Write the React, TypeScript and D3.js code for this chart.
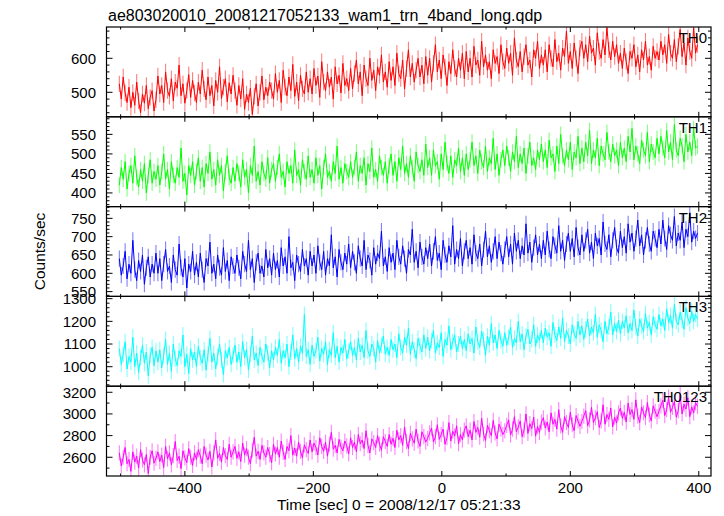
import React from "react";
import * as d3 from "d3";

// ---- data ----
const TITLE = "ae803020010_20081217052133_wam1_trn_4band_long.qdp";
const X_LABEL = "Time [sec] 0 = 2008/12/17 05:21:33";
const Y_LABEL = "Counts/sec";
const T_START = -502; // first bin time (s)
const T_STEP = 3; // bin spacing (s)
const X_DOMAIN = [-522, 419];
const X_MAJOR_TICKS = [-400, -200, 0, 200, 400];
const X_MINOR_TICKS = [-500, -300, -100, 100, 300];

const TH0 = [
  525, 480, 545, 498, 470, 515, 455, 500, 462, 530, 475, 440, 495, 468, 520, 452, 485, 505, 445, 478,
  548, 495, 520, 470, 560, 505, 488, 540, 475, 530, 512, 580, 490, 525, 468, 505, 552, 485, 535, 498,
  470, 530, 495, 565, 510, 478, 545, 490, 520, 460, 535, 500, 575, 482, 515, 540, 472, 528, 495, 550,
  505, 462, 520, 480, 540, 450, 495, 470, 512, 435, 488, 525, 460, 500, 548, 478, 515, 490, 530, 505,
  480, 555, 500, 535, 470, 565, 515, 490, 545, 505, 582, 488, 530, 475, 550, 510, 495, 560, 500, 540,
  495, 570, 520, 548, 485, 590, 530, 505, 560, 515, 545, 480, 575, 525, 550, 498, 585, 520, 540, 505,
  570, 510, 555, 595, 525, 560, 490, 580, 540, 520, 600, 535, 565, 505, 575, 550, 610, 530, 560, 515,
  590, 535, 575, 520, 615, 555, 540, 595, 510, 570, 625, 545, 585, 530, 565, 600, 545, 580, 525, 605,
  550, 600, 530, 585, 640, 560, 595, 540, 610, 575, 520, 590, 555, 625, 570, 545, 600, 565, 615, 540,
  620, 560, 600, 545, 635, 580, 595, 550, 650, 575, 610, 565, 590, 540, 625, 585, 605, 555, 640, 590,
  570, 630, 585, 615, 550, 660, 595, 575, 620, 560, 605, 640, 580, 595, 545, 625, 600, 650, 570, 610,
  580, 625, 560, 640, 600, 575, 655, 590, 615, 565, 630, 605, 680, 585, 620, 570, 645, 600, 555, 630,
  650, 600, 640, 590, 665, 615, 630, 580, 675, 620, 600, 655, 610, 690, 625, 595, 650, 605, 640, 585,
  615, 570, 630, 590, 555, 620, 600, 640, 575, 610, 560, 625, 595, 650, 580, 605, 565, 635, 600, 620,
  595, 650, 610, 640, 585, 670, 615, 600, 655, 590, 635, 685, 605, 645, 580, 660, 620, 600, 690, 615,
  640,
];

const TH1 = [
  420, 465, 435, 480, 410, 450, 470, 425, 495, 440, 415, 460, 430, 475, 400, 445, 485, 425, 455, 435,
  470, 420, 455, 500, 435, 460, 410, 480, 445, 425, 465, 440, 515, 430, 450, 395, 470, 445, 480, 420,
  455, 490, 430, 465, 415, 475, 450, 505, 435, 460, 420, 485, 445, 470, 405, 455, 495, 440, 425, 465,
  430, 475, 450, 415, 485, 440, 460, 400, 470, 445, 520, 430, 455, 420, 480, 450, 435, 490, 425, 460,
  475, 430, 465, 500, 440, 455, 415, 480, 450, 470, 425, 510, 445, 460, 420, 485, 455, 435, 495, 440,
  460, 425, 490, 445, 470, 410, 465, 500, 440, 455, 430, 480, 450, 520, 435, 465, 425, 475, 455, 440,
  480, 440, 465, 505, 430, 470, 450, 490, 420, 475, 455, 515, 440, 460, 430, 495, 465, 445, 480, 425,
  470, 500, 445, 480, 430, 490, 460, 520, 450, 475, 440, 495, 465, 430, 505, 470, 455, 485, 445, 525,
  465, 490, 445, 510, 470, 480, 435, 500, 460, 530, 475, 450, 495, 440, 485, 470, 515, 455, 490, 445,
  500, 460, 485, 530, 470, 495, 450, 510, 480, 465, 520, 455, 490, 475, 540, 460, 500, 445, 485, 510,
  470, 520, 490, 455, 505, 480, 545, 465, 500, 475, 515, 450, 495, 530, 470, 490, 460, 510, 485, 525,
  480, 510, 465, 535, 490, 500, 455, 520, 475, 550, 495, 470, 510, 485, 530, 460, 505, 490, 545, 475,
  515, 480, 530, 495, 560, 475, 510, 490, 540, 470, 520, 500, 485, 555, 505, 480, 525, 495, 510, 470,
  530, 490, 515, 480, 545, 505, 565, 485, 520, 500, 475, 535, 510, 495, 555, 480, 525, 505, 490, 540,
  500, 545, 515, 490, 560, 505, 530, 485, 575, 510, 495, 540, 520, 480, 550, 505, 530, 495, 565, 515,
  520,
];

const TH2 = [
  640, 595, 620, 660, 585, 625, 600, 690, 610, 580, 635, 605, 650, 570, 615, 645, 590, 625, 600, 655,
  600, 640, 580, 625, 665, 605, 620, 575, 650, 610, 595, 680, 615, 590, 640, 560, 625, 605, 660, 595,
  630, 590, 655, 610, 575, 640, 620, 685, 600, 625, 585, 650, 615, 595, 670, 605, 635, 580, 645, 620,
  600, 650, 615, 585, 660, 625, 605, 690, 610, 640, 575, 630, 655, 600, 620, 590, 665, 615, 640, 595,
  655, 610, 635, 590, 670, 620, 645, 600, 700, 615, 630, 580, 650, 625, 605, 665, 620, 640, 595, 660,
  620, 650, 600, 675, 630, 610, 660, 595, 640, 620, 705, 615, 645, 590, 665, 630, 610, 655, 625, 680,
  615, 660, 630, 600, 675, 640, 620, 690, 610, 650, 635, 595, 670, 625, 655, 640, 715, 620, 645, 605,
  670, 630, 655, 610, 690, 645, 625, 675, 640, 600, 665, 650, 720, 630, 660, 615, 685, 645, 625, 670,
  640, 680, 620, 660, 700, 635, 655, 610, 690, 650, 630, 675, 645, 730, 625, 665, 640, 695, 620, 660,
  690, 640, 670, 625, 705, 655, 640, 680, 620, 665, 715, 645, 675, 630, 660, 700, 640, 685, 655, 625,
  665, 700, 645, 680, 625, 710, 660, 690, 640, 675, 650, 735, 655, 685, 630, 670, 705, 650, 680, 640,
  690, 650, 715, 665, 640, 700, 675, 655, 730, 660, 690, 635, 680, 710, 660, 695, 645, 725, 670, 650,
  705, 660, 690, 720, 655, 685, 640, 710, 675, 695, 650, 740, 680, 665, 705, 645, 690, 725, 670, 655,
  715, 670, 700, 655, 735, 685, 710, 660, 695, 745, 675, 705, 650, 690, 725, 680, 660, 715, 695, 670,
  720, 680, 745, 695, 665, 730, 705, 690, 755, 675, 710, 690, 740, 670, 720, 700, 765, 685, 715, 695,
  710,
];

const TH3 = [
  1080, 1010, 1055, 1110, 990, 1045, 1020, 1130, 1000, 1060, 975, 1040, 1095, 1015, 1065, 960, 1050, 1085, 1005, 1070,
  1020, 1075, 995, 1050, 1120, 1010, 1060, 980, 1100, 1035, 1005, 1070, 1045, 1140, 1000, 1055, 970, 1080, 1030, 1065,
  1000, 1090, 1040, 1015, 1075, 985, 1055, 1125, 1020, 1060, 990, 1045, 1100, 1030, 965, 1070, 1040, 1085, 1010, 1050,
  1095, 1020, 1065, 1000, 1110, 1040, 1075, 985, 1055, 1135, 1030, 1060, 1005, 1085, 1045, 1020, 1100, 1060, 995, 1070,
  1030, 1085, 1050, 1120, 1015, 1070, 1040, 1100, 1000, 1065, 1140, 1035, 1080, 1020, 1090, 1060, 1230, 1045, 1075, 1010,
  1095, 1045, 1070, 1130, 1025, 1080, 1055, 1110, 1010, 1075, 1050, 1150, 1040, 1090, 1020, 1085, 1060, 1120, 1035, 1070,
  1110, 1050, 1085, 1030, 1125, 1065, 1095, 1040, 1160, 1070, 1045, 1100, 1080, 1020, 1115, 1060, 1095, 1135, 1055, 1085,
  1050, 1120, 1075, 1100, 1040, 1145, 1085, 1060, 1130, 1095, 1170, 1055, 1110, 1075, 1035, 1125, 1090, 1065, 1140, 1080,
  1130, 1070, 1115, 1160, 1060, 1105, 1085, 1150, 1045, 1120, 1095, 1180, 1075, 1110, 1140, 1065, 1100, 1135, 1080, 1120,
  1070, 1145, 1100, 1125, 1060, 1175, 1110, 1085, 1155, 1120, 1050, 1135, 1095, 1190, 1105, 1140, 1080, 1160, 1115, 1090,
  1150, 1095, 1130, 1175, 1085, 1125, 1105, 1200, 1110, 1145, 1075, 1135, 1165, 1100, 1120, 1185, 1090, 1140, 1115, 1160,
  1105, 1170, 1130, 1150, 1090, 1195, 1140, 1115, 1175, 1125, 1215, 1110, 1160, 1135, 1100, 1185, 1145, 1125, 1200, 1140,
  1180, 1120, 1165, 1210, 1135, 1175, 1150, 1230, 1130, 1185, 1160, 1110, 1200, 1145, 1175, 1240, 1140, 1190, 1155, 1205,
  1145, 1200, 1170, 1225, 1150, 1190, 1160, 1250, 1175, 1135, 1210, 1180, 1155, 1235, 1170, 1195, 1140, 1220, 1185, 1165,
  1230, 1180, 1210, 1160, 1255, 1195, 1225, 1170, 1275, 1200, 1185, 1240, 1205, 1165, 1260, 1215, 1190, 1245, 1200, 1230,
  1210,
];

const TH0123 = [
  2640, 2520, 2600, 2690, 2540, 2580, 2470, 2650, 2555, 2610, 2500, 2670, 2575, 2530, 2625, 2450, 2600, 2660, 2545, 2590,
  2650, 2560, 2620, 2505, 2700, 2585, 2640, 2530, 2615, 2745, 2570, 2610, 2495, 2660, 2595, 2550, 2680, 2600, 2525, 2640,
  2580, 2670, 2610, 2540, 2700, 2620, 2575, 2655, 2510, 2640, 2760, 2590, 2635, 2555, 2690, 2615, 2580, 2720, 2600, 2650,
  2700, 2590, 2650, 2560, 2730, 2620, 2680, 2600, 2540, 2665, 2785, 2610, 2655, 2580, 2710, 2640, 2600, 2690, 2625, 2550,
  2720, 2630, 2690, 2600, 2750, 2645, 2580, 2700, 2660, 2800, 2620, 2685, 2610, 2740, 2655, 2595, 2715, 2670, 2635, 2760,
  2650, 2730, 2690, 2620, 2780, 2700, 2655, 2740, 2610, 2720, 2830, 2675, 2710, 2640, 2765, 2695, 2660, 2750, 2705, 2630,
  2780, 2690, 2740, 2650, 2810, 2725, 2760, 2680, 2845, 2710, 2640, 2770, 2735, 2690, 2800, 2720, 2665, 2790, 2745, 2700,
  2810, 2720, 2775, 2690, 2850, 2760, 2800, 2710, 2880, 2745, 2680, 2820, 2770, 2730, 2860, 2750, 2700, 2835, 2790, 2740,
  2775, 2825, 2870, 2740, 2790, 2900, 2765, 2810, 2860, 2720, 2780, 2920, 2750, 2840, 2795, 2890, 2725, 2810, 2760, 2850,
  2890, 2790, 2850, 2760, 2930, 2830, 2875, 2785, 2960, 2815, 2755, 2895, 2845, 2800, 2940, 2825, 2770, 2905, 2860, 2810,
  2845, 2895, 2945, 2805, 2860, 2975, 2835, 2880, 2935, 2790, 2850, 3000, 2820, 2910, 2865, 2970, 2795, 2885, 2830, 2925,
  2965, 2870, 2925, 2835, 3010, 2905, 2950, 2860, 3040, 2890, 2830, 2975, 2920, 2875, 3015, 2900, 2845, 2985, 2935, 2885,
  2930, 2980, 3030, 2890, 2945, 3060, 2920, 2965, 3020, 2875, 2935, 3085, 2905, 2995, 2950, 3055, 2880, 2970, 2915, 3010,
  3055, 2960, 3015, 2925, 3100, 2995, 3040, 2950, 3130, 2980, 2920, 3065, 3010, 2965, 3105, 2990, 2935, 3075, 3025, 2975,
  3025, 3075, 3125, 2985, 3040, 3155, 3015, 3060, 3115, 2970, 3030, 3180, 3000, 3090, 3045, 3150, 2975, 3065, 3010, 3105,
  3070,
];

// approximate 1-sigma error bar half-lengths per band (counts/sec)
const ERRORS = [24, 20, 22, 35, 70];

const PANEL_NAMES = ["TH0", "TH1", "TH2", "TH3", "TH0123"];
const PANEL_SERIES = [TH0, TH1, TH2, TH3, TH0123];
const PANEL_COLORS = ["#ff0000", "#00ff00", "#0000ff", "#00ffff", "#ff00ff"];
const Y_DOMAINS = [
  [428, 692],
  [365, 595],
  [537, 782],
  [914, 1310],
  [2427, 3256],
];
const Y_MAJOR_STEP = [100, 50, 50, 100, 200];
const Y_MINOR_STEP = [20, 10, 10, 20, 100];

// ---- layout ----
const W = 724;
const H = 516;
const LEFT = 106.5;
const RIGHT = 711;
const TOP = 27;
const BOTTOM = 476;
const NP = PANEL_NAMES.length;
const PH = (BOTTOM - TOP) / NP;
const FONT = "'Liberation Sans', Arial, Helvetica, sans-serif";

function ticksIn(domain: number[], step: number) {
  const lo = Math.ceil(domain[0] / step) * step;
  const out: number[] = [];
  for (let v = lo; v <= domain[1] + 1e-9; v += step) out.push(v);
  return out;
}

export default function App() {
  const x = d3.scaleLinear().domain(X_DOMAIN).range([LEFT, RIGHT]);

  return (
    <svg
      width={W}
      height={H}
      viewBox={`0 0 ${W} ${H}`}
      style={{ position: "absolute", left: 0, top: 0, background: "#fff" }}
    >
      <rect x={0} y={0} width={W} height={H} fill="#fff" />
      <defs>
        {PANEL_NAMES.map((n, i) => (
          <clipPath id={`clip${i}`} key={n}>
            <rect x={LEFT} y={TOP + i * PH} width={RIGHT - LEFT} height={PH} />
          </clipPath>
        ))}
      </defs>
      <text x={108} y={21} fontFamily={FONT} fontSize={16} fill="#000">
        {TITLE}
      </text>
      {PANEL_NAMES.map((name, i) => {
        const top = TOP + i * PH;
        const bot = top + PH;
        const y = d3.scaleLinear().domain(Y_DOMAINS[i]).range([bot, top]);
        const vals = PANEL_SERIES[i];
        const tx = (k: number) => x(T_START + k * T_STEP);
        const line = d3
          .line<number>()
          .x((_, k) => tx(k))
          .y((v) => y(v));
        const d = line(vals) || "";
        const err = ERRORS[i];
        const bars = vals
          .map((v, k) => `M${tx(k).toFixed(2)},${y(v - err).toFixed(2)}V${y(v + err).toFixed(2)}`)
          .join("");
        const majors = ticksIn(Y_DOMAINS[i], Y_MAJOR_STEP[i]);
        const minors = ticksIn(Y_DOMAINS[i], Y_MINOR_STEP[i]).filter(
          (v) => !majors.includes(v)
        );
        const col = PANEL_COLORS[i];
        return (
          <g key={name}>
            <g clipPath={`url(#clip${i})`}>
              <path d={bars} fill="none" stroke={col} strokeOpacity={0.5} strokeWidth={1.1} />
              <path d={d} fill="none" stroke={col} strokeWidth={1} />
            </g>
            {majors.map((v) => (
              <g key={`M${v}`}>
                <line x1={LEFT} x2={LEFT + 6} y1={y(v)} y2={y(v)} stroke="#000" strokeWidth={1} />
                <line x1={RIGHT - 6} x2={RIGHT} y1={y(v)} y2={y(v)} stroke="#000" strokeWidth={1} />
                <text
                  x={96}
                  y={y(v)}
                  dy="0.36em"
                  textAnchor="end"
                  fontFamily={FONT}
                  fontSize={15}
                  fill="#000"
                >
                  {v}
                </text>
              </g>
            ))}
            {minors.map((v) => (
              <g key={`m${v}`}>
                <line x1={LEFT} x2={LEFT + 3} y1={y(v)} y2={y(v)} stroke="#000" strokeWidth={1} />
                <line x1={RIGHT - 3} x2={RIGHT} y1={y(v)} y2={y(v)} stroke="#000" strokeWidth={1} />
              </g>
            ))}
            {X_MAJOR_TICKS.map((t) => (
              <g key={`xM${t}`}>
                <line x1={x(t)} x2={x(t)} y1={top} y2={top + 5} stroke="#000" strokeWidth={1} />
                <line x1={x(t)} x2={x(t)} y1={bot - 5} y2={bot} stroke="#000" strokeWidth={1} />
              </g>
            ))}
            {X_MINOR_TICKS.map((t) => (
              <g key={`xm${t}`}>
                <line x1={x(t)} x2={x(t)} y1={top} y2={top + 2.5} stroke="#000" strokeWidth={1} />
                <line x1={x(t)} x2={x(t)} y1={bot - 2.5} y2={bot} stroke="#000" strokeWidth={1} />
              </g>
            ))}
            <rect
              x={LEFT}
              y={top}
              width={RIGHT - LEFT}
              height={PH}
              fill="none"
              stroke="#000"
              strokeWidth={1.2}
            />
            <text
              x={RIGHT - 4}
              y={top + 16}
              textAnchor="end"
              fontFamily={FONT}
              fontSize={15}
              fill="#000"
            >
              {name}
            </text>
          </g>
        );
      })}
      {X_MAJOR_TICKS.map((t) => (
        <text
          key={`xl${t}`}
          x={x(t)}
          y={493}
          textAnchor="middle"
          fontFamily={FONT}
          fontSize={15}
          fill="#000"
        >
          {t < 0 ? `\u2212${Math.abs(t)}` : t}
        </text>
      ))}
      <text
        x={(LEFT + RIGHT) / 2 - 10}
        y={509.5}
        textAnchor="middle"
        fontFamily={FONT}
        fontSize={15.5}
        fill="#000"
      >
        {X_LABEL}
      </text>
      <text
        transform={`translate(45, ${(TOP + BOTTOM) / 2}) rotate(-90)`}
        textAnchor="middle"
        fontFamily={FONT}
        fontSize={15.5}
        fill="#000"
      >
        {Y_LABEL}
      </text>
    </svg>
  );
}
